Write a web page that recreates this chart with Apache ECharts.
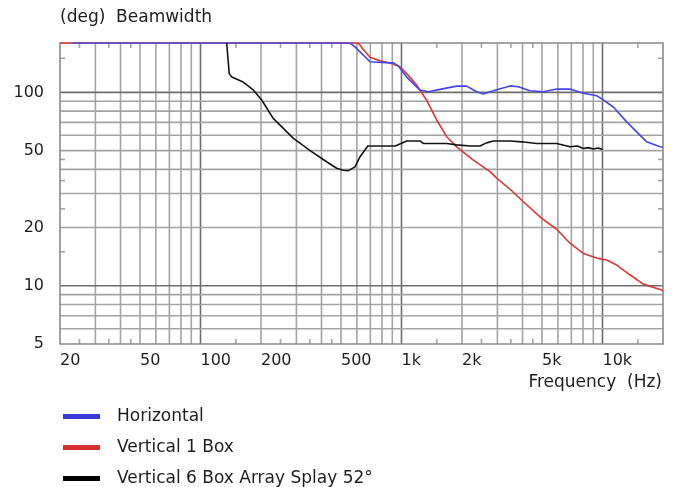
<!DOCTYPE html>
<html>
<head>
<meta charset="utf-8">
<script src="https://cdn.jsdelivr.net/npm/echarts@6/dist/echarts.min.js"></script>
<style>
html,body{margin:0;padding:0;background:#fff;}
#chart{width:675px;height:487px;}
</style>
</head>
<body>
<div id="chart"></div>
<script>
// ---- Data ----
const hFreq = [23, 441, 554, 587, 622, 697, 876, 911, 964, 1061, 1236, 1360, 1554, 1882, 2110, 2366, 2554, 2862, 3466, 3812, 4358, 5078, 5918, 6892, 8028, 9354, 10000, 11318, 13196, 14792, 16592, 19320, 20000];
const hVal  = [180, 180, 180, 172, 162, 144, 142, 142, 137, 120, 102.7, 100.7, 103.6, 107.7, 107.7, 100.7, 98, 102, 108, 107, 102, 100.7, 104, 104, 99, 96, 92, 84, 70.4, 62.5, 55.5, 52.3, 52];

const v1Freq = [20, 610, 650, 697, 782, 876, 983, 1061, 1190, 1335, 1496, 1678, 1882, 2277, 2757, 2977, 3533, 4038, 4984, 5918, 6892, 8028, 9354, 10490, 11766, 13700, 15960, 19700, 20000];
const v1Val  = [180, 180, 165, 152, 145.6, 141.8, 135.6, 125, 109, 91, 72, 59, 52.3, 44.6, 38.9, 36, 31, 27.2, 22.3, 19.6, 16.6, 14.7, 13.9, 13.6, 12.8, 11.4, 10.2, 9.5, 9.4];

const v6Freq = [135, 137, 139, 143, 163, 183, 202, 230, 290, 351, 424, 476, 513, 544, 587, 622, 680, 932, 1061, 1240, 1284, 1678, 1882, 2205, 2458, 2650, 2862, 3466, 3964, 4706, 5918, 6892, 7500, 8028, 8500, 8998, 9500, 10000];
const v6Val  = [180, 150, 125, 120, 113, 103, 91, 73.4, 57.8, 50, 43.8, 40.5, 39.6, 39.4, 41.2, 46.5, 52.8, 52.8, 56, 56, 54.5, 54.4, 53.5, 52.8, 52.8, 54.8, 56, 56, 55.5, 54.4, 54.4, 52.3, 52.8, 51.3, 51.8, 51.0, 51.6, 50.7];

const seriesNames = ['Horizontal', 'Vertical 1 Box', 'Vertical 6 Box Array Splay 52°'];

// axis ranges, grid lines, ticks, labels
const X_MIN = 20, X_MAX = 20000, Y_MIN = 5, Y_MAX = 180;
const xGridMinor = [30, 40, 50, 60, 70, 80, 90, 200, 300, 400, 500, 600, 700, 800, 900, 2000, 3000, 4000, 5000, 6000, 7000, 8000, 9000];
const xGridMajor = [100, 1000, 10000];
const yGridMinor = [6, 7, 8, 9, 20, 30, 40, 50, 60, 70, 80, 90];
const yGridMajor = [10, 100];
const xTicks = [25, 35, 45, 150, 250, 350, 450, 1500, 2500, 3500, 4500, 15000];
const yTicks = [15, 25, 35, 45, 150];
const xLabels = [20, 50, 100, 200, 500, 1000, 2000, 5000, 10000];
const xLabelText = ['20', '50', '100', '200', '500', '1k', '2k', '5k', '10k'];
const yLabels = [5, 10, 20, 50, 100];
const yLabelText = ['5', '10', '20', '50', '100'];

const FONT = '"DejaVu Sans", Verdana, sans-serif';
const TXT = '#1e1e1e';
const MINOR = '#a4a4a4', MAJOR = '#6e6e6e';

function zip(a, b) { return a.map((v, i) => [v, b[i]]); }

const chart = echarts.init(document.getElementById('chart'), null, {renderer: 'canvas'});

const gridSeries = {
  type: 'custom', silent: true, z: 1, clip: false,
  data: xGridMinor.map(v => [v, 0, 0]).concat(xGridMajor.map(v => [v, 0, 1]))
        .concat(yGridMinor.map(v => [v, 1, 0])).concat(yGridMajor.map(v => [v, 1, 1])),
  encode: {x: -1, y: -1},
  renderItem: (params, api) => {
    const v = api.value(0), dir = api.value(1), maj = api.value(2);
    let p1, p2;
    if (dir === 0) { p1 = api.coord([v, Y_MIN]); p2 = api.coord([v, Y_MAX]); }
    else { p1 = api.coord([X_MIN, v]); p2 = api.coord([X_MAX, v]); }
    return {type: 'line', shape: {x1: p1[0], y1: p1[1], x2: p2[0], y2: p2[1]},
            style: {stroke: maj ? MAJOR : MINOR, lineWidth: 1.6}};
  }
};

const tickSeries = {
  type: 'custom', silent: true, z: 1, clip: false,
  data: xTicks.map(v => [v, 0]).concat(yTicks.map(v => [v, 1])),
  encode: {x: -1, y: -1},
  renderItem: (params, api) => {
    const v = api.value(0), dir = api.value(1), L = 5;
    const st = {stroke: MINOR, lineWidth: 1.6};
    if (dir === 0) {
      const b = api.coord([v, Y_MIN]), t = api.coord([v, Y_MAX]);
      return {type: 'group', children: [
        {type: 'line', shape: {x1: b[0], y1: b[1], x2: b[0], y2: b[1] - L}, style: st},
        {type: 'line', shape: {x1: t[0], y1: t[1], x2: t[0], y2: t[1] + L}, style: st}]};
    }
    const l = api.coord([X_MIN, v]), r = api.coord([X_MAX, v]);
    return {type: 'group', children: [
      {type: 'line', shape: {x1: l[0], y1: l[1], x2: l[0] + L, y2: l[1]}, style: st},
      {type: 'line', shape: {x1: r[0], y1: r[1], x2: r[0] - L, y2: r[1]}, style: st}]};
  }
};

const labelSeries = {
  type: 'custom', silent: true, z: 1, clip: false,
  data: xLabels.map((v, i) => [v, 0, i]).concat(yLabels.map((v, i) => [v, 1, i])),
  encode: {x: -1, y: -1},
  renderItem: (params, api) => {
    const v = api.value(0), dir = api.value(1), i = api.value(2);
    if (dir === 0) {
      const p = api.coord([v, Y_MIN]);
      return {type: 'text', x: p[0], y: p[1] + 17,
        style: {text: xLabelText[i], fill: TXT, font: '16px ' + FONT, align: 'left', verticalAlign: 'middle'}};
    }
    const p = api.coord([X_MIN, v]);
    return {type: 'text', x: p[0] - 16, y: p[1],
      style: {text: yLabelText[i], fill: TXT, font: '16px ' + FONT, align: 'right', verticalAlign: 'middle'}};
  }
};

const option = {
  animation: false,
  backgroundColor: '#fff',
  grid: {left: 60, right: 12, top: 43, bottom: 143, show: true, borderColor: '#8a8a8a', borderWidth: 1.6, backgroundColor: 'transparent', z: 3},
  xAxis: {type: 'log', logBase: 10, min: X_MIN, max: X_MAX,
    axisLine: {show: false}, axisTick: {show: false}, axisLabel: {show: false}, splitLine: {show: false}, minorSplitLine: {show: false}},
  yAxis: {type: 'log', logBase: 10, min: Y_MIN, max: Y_MAX,
    axisLine: {show: false}, axisTick: {show: false}, axisLabel: {show: false}, splitLine: {show: false}, minorSplitLine: {show: false}},
  legend: {
    data: seriesNames, orient: 'vertical', left: 63, top: 403, padding: 0, height: 150, width: 500,
    itemWidth: 37, itemHeight: 5, itemGap: 4, icon: 'rect', selectedMode: false,
    textStyle: {fontFamily: FONT, fontSize: 17, color: TXT, lineHeight: 18, padding: [0, 0, 9, 12]}
  },
  graphic: [
    {type: 'text', left: 60, top: 9, style: {text: '(deg)  Beamwidth', font: '17px ' + FONT, fill: TXT}},
    {type: 'text', right: 13, top: 374, style: {text: 'Frequency  (Hz)', font: '17px ' + FONT, fill: TXT}}
  ],
  series: [
    gridSeries, tickSeries, labelSeries,
    {name: seriesNames[1], type: 'line', z: 4, data: zip(v1Freq, v1Val), showSymbol: false, symbol: 'none',
      lineStyle: {color: '#e23434', width: 1.6}, itemStyle: {color: '#d83030'}},
    {name: seriesNames[0], type: 'line', z: 5, data: zip(hFreq, hVal), showSymbol: false, symbol: 'none',
      lineStyle: {color: '#4646ee', width: 1.6}, itemStyle: {color: '#3a3ad8'}},
    {name: seriesNames[2], type: 'line', z: 6, data: zip(v6Freq, v6Val), showSymbol: false, symbol: 'none',
      lineStyle: {color: '#141414', width: 1.6}, itemStyle: {color: '#000'}}
  ]
};
chart.setOption(option);
</script>
</body>
</html>
